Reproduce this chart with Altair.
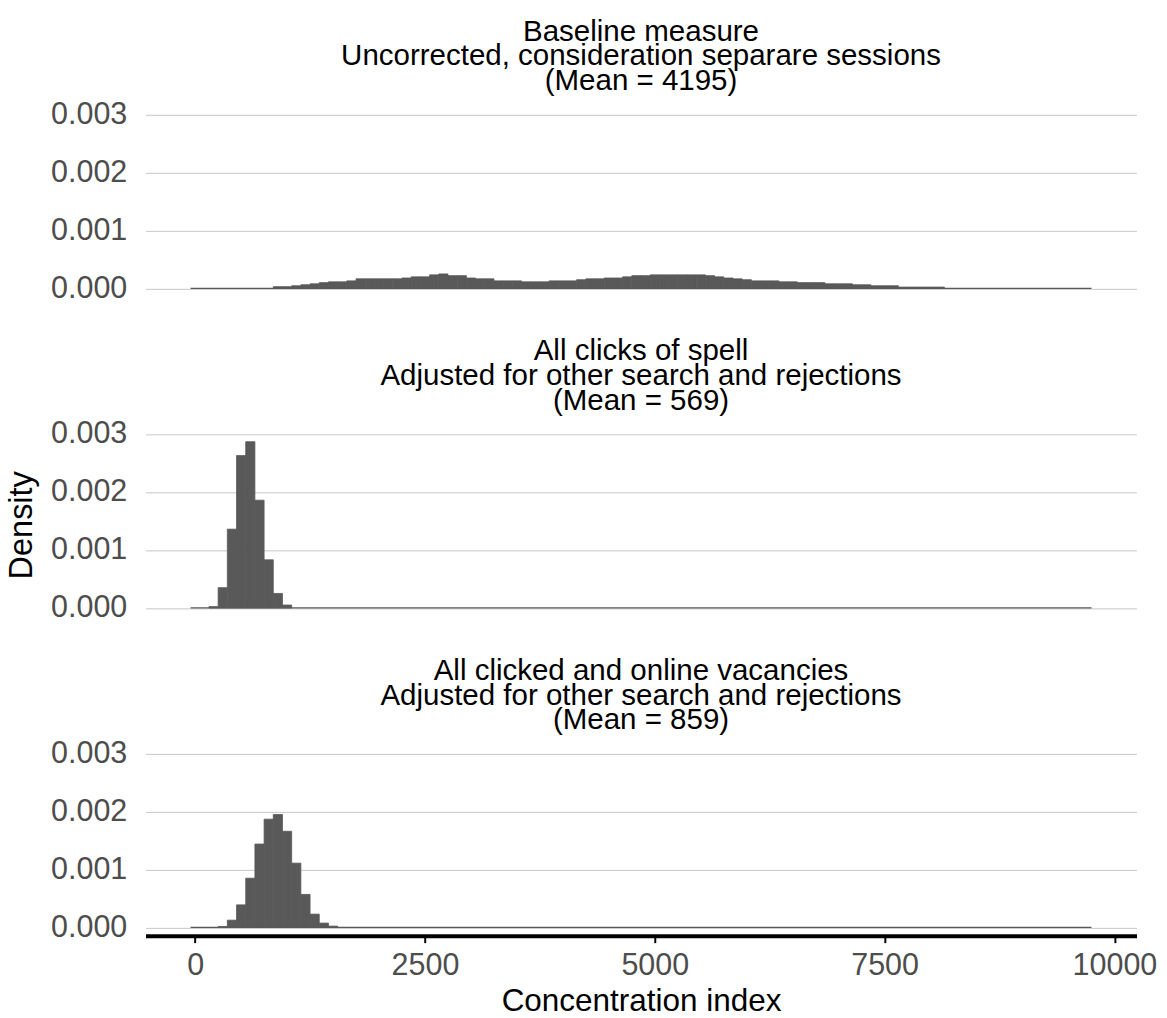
import altair as alt
import pandas as pd

# Histogram bins are 100 wide and centred on multiples of 100; the support runs
# from the first to the last bin centre, and bins not listed below are empty.
BIN_WIDTH = 100
support_first_center = 0
support_last_center = 9700

# Panel headings (three lines each)
panel_titles = [
    ["Baseline measure", "Uncorrected, consideration separare sessions", "(Mean = 4195)"],
    ["All clicks of spell", "Adjusted for other search and rejections", "(Mean = 569)"],
    ["All clicked and online vacancies", "Adjusted for other search and rejections", "(Mean = 859)"],
]

# Baseline measure: densities for consecutive bins starting at centre 900
baseline_first_center = 900
baseline_density = [
    0.00003, 0.00003, 0.000046, 0.000063, 0.00008, 0.0001, 0.000114, 0.000114,
    0.00013, 0.000166, 0.000166, 0.000166, 0.000166, 0.000166, 0.00018, 0.0002,
    0.0002, 0.000234, 0.00025, 0.00022, 0.00022, 0.00018, 0.000166, 0.000166,
    0.00013, 0.00013, 0.00013, 0.000114, 0.000114, 0.000114, 0.00013, 0.00013,
    0.00013, 0.00015, 0.000166, 0.000166, 0.00018, 0.00018, 0.0002, 0.00022,
    0.00022, 0.000234, 0.000234, 0.000234, 0.000234, 0.000234, 0.000234, 0.00022,
    0.0002, 0.00018, 0.000166, 0.00015, 0.00013, 0.00013, 0.00013, 0.000114,
    0.000114, 0.0001, 0.0001, 0.0001, 0.00008, 0.00008, 0.00008, 0.000063,
    0.000063, 0.000046, 0.000046, 0.000046, 0.000023, 0.000023, 0.000023,
    0.000023, 0.000023,
]

# All clicks of spell: bins starting at centre 200
spell_first_center = 200
spell_density = [
    0.000023, 0.00035, 0.00136, 0.00263, 0.00287, 0.00186, 0.00083, 0.00025, 0.00005,
]

# All clicked and online vacancies: bins starting at centre 300
online_first_center = 300
online_density = [
    0.000017, 0.000126, 0.00039, 0.00085, 0.00144, 0.00187, 0.00195, 0.00166,
    0.00111, 0.00057, 0.00023, 0.000075, 0.000023,
]

x_ticks = [0, 2500, 5000, 7500, 10000]
y_ticks = [0.0, 0.001, 0.002, 0.003]

BAR_COLOR = "#595959"
FONT = "Liberation Sans"


def bins_frame(first_center, densities):
    rows = []
    for i, d in enumerate(densities):
        c = first_center + i * BIN_WIDTH
        rows.append({"start": c - BIN_WIDTH / 2, "end": c + BIN_WIDTH / 2,
                     "density": float(d), "zero": 0.0})
    return pd.DataFrame(rows)


support = pd.DataFrame([{
    "start": float(support_first_center - BIN_WIDTH / 2),
    "end": float(support_last_center + BIN_WIDTH / 2),
    "zero": 0.0,
}])

# 5% expansion on both scales
x_lo = float(support_first_center - BIN_WIDTH / 2)
x_hi = float(support_last_center + BIN_WIDTH / 2)
x_pad = 0.05 * (x_hi - x_lo)
x_scale = alt.Scale(domain=[x_lo - x_pad, x_hi + x_pad], nice=False, zero=False)

y_max = max(max(baseline_density), max(spell_density), max(online_density))
y_scale = alt.Scale(domain=[-0.05 * y_max, 1.05 * y_max], nice=False, zero=False)


def panel(title_lines, first_center, densities, show_x, show_y_title):
    df = bins_frame(first_center, densities)
    if show_x:
        x_axis = alt.Axis(
            values=x_ticks, format="d", grid=False,
            domainColor="black", domainWidth=4,
            tickColor="black", tickWidth=2, tickSize=7,
            labelFontSize=31, labelColor="#4D4D4D", labelPadding=8,
            title="Concentration index", titleFontSize=32, titleColor="black",
            titleFontWeight="normal", titlePadding=6,
        )
    else:
        x_axis = None
    y_axis = alt.Axis(
        values=y_ticks, format=".3f", grid=True, gridColor="#C6C6C6", gridWidth=1,
        ticks=False, domain=False, labelFontSize=31, labelColor="#4D4D4D",
        labelPadding=19,
        title="Density", titleFontSize=33,
        titleColor="black" if show_y_title else "transparent",
        titleFontWeight="normal", titlePadding=12,
    )
    base = alt.Chart(support).mark_rule(color=BAR_COLOR, strokeWidth=1.2).encode(
        x=alt.X("start:Q", scale=x_scale, axis=x_axis),
        x2="end:Q",
        y=alt.Y("zero:Q", scale=y_scale, axis=y_axis),
    )
    # a hairline outline in the fill colour closes the seams between adjacent bins
    bars = alt.Chart(df).mark_rect(
        color=BAR_COLOR, stroke=BAR_COLOR, strokeWidth=0.8
    ).encode(
        x=alt.X("start:Q", scale=x_scale, axis=x_axis),
        x2="end:Q",
        y=alt.Y("density:Q", scale=y_scale, axis=y_axis),
        y2="zero:Q",
    )
    return alt.layer(base, bars).properties(
        width=1008, height=186,
        title=alt.TitleParams(
            text=title_lines, fontSize=30, lineHeight=25, font=FONT,
            fontWeight="normal", color="black", anchor="middle", offset=3,
        ),
    )


p1 = panel(panel_titles[0], baseline_first_center, baseline_density, False, False)
p2 = panel(panel_titles[1], spell_first_center, spell_density, False, True)
p3 = panel(panel_titles[2], online_first_center, online_density, True, False)

chart = alt.vconcat(p1, p2, p3, spacing=33).properties(
    padding={"left": 6, "top": 8, "right": 10, "bottom": 2},
).configure(font=FONT).configure_view(stroke=None)

chart.save("out.html", embed_options={"renderer": "svg", "actions": False})
